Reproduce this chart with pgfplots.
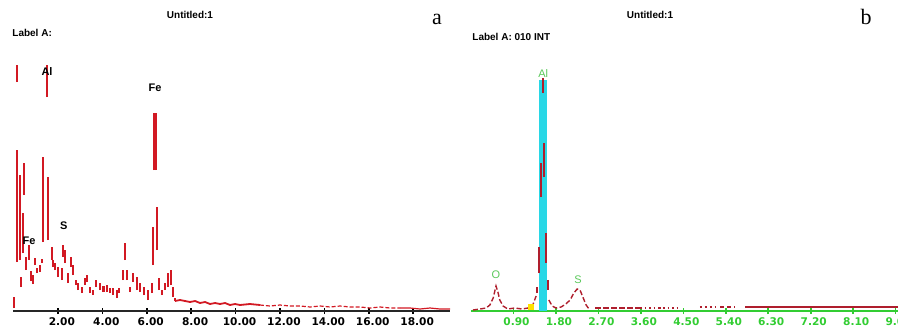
\documentclass[border=0pt]{standalone}
\usepackage{pgfplots}
\usepackage{pgfplotstable}
\pgfplotsset{compat=1.18}
\usepackage{fontspec}
\setmainfont{Liberation Sans}
\newfontfamily\djv{DejaVu Sans}
\newfontfamily\serifx{Liberation Serif}
\definecolor{spred}{RGB}{210,25,35}
\definecolor{bred}{RGB}{175,30,45}
\definecolor{bgreen}{RGB}{50,205,50}
\definecolor{lgreen}{RGB}{90,200,90}
\definecolor{bcyan}{RGB}{40,215,230}
\definecolor{byellow}{RGB}{255,225,0}

% panel a: vertical strokes of the spectrum (x, low, high)
\pgfplotstableread{
x lo hi
0.02 3 14
0.16 229 246
0.14 49 161
0.29 51 136
0.34 24 34
0.43 58 98
0.47 116 148
0.56 41 54
0.70 51 66
0.79 30 40
0.88 27 36
0.97 46 53
1.06 38 43
1.19 39 46
1.28 48 52
1.33 69 154
1.51 214 246
1.55 71 134
1.73 51 64
1.78 44 51
1.87 41 48
2.00 34 44
2.18 31 43
2.23 54 66
2.32 48 61
2.45 28 38
2.59 44 54
2.68 36 46
2.82 26 31
2.91 21 28
3.09 18 24
3.22 26 33
3.31 29 36
3.45 18 24
3.58 16 21
3.72 24 31
3.90 21 28
4.03 19 25
4.08 19 25
4.21 19 26
4.35 18 23
4.48 16 23
4.66 13 21
4.75 18 23
4.93 31 41
5.02 51 68
5.11 31 41
5.25 19 24
5.38 29 38
5.56 21 34
5.70 19 28
5.88 16 24
6.06 11 21
6.24 18 28
6.28 46 84
6.35 141 198
6.40 141 198
6.46 61 104
6.55 21 33
6.69 16 21
6.82 21 28
6.96 24 38
7.09 26 41
7.18 14 24
7.27 10 13
}\strokesA

% panel b: vertical strokes of the Al peak
\pgfplotstableread{
x lo hi
1.525 218 233
1.54 134 168
1.48 114 148
1.59 48 78
1.44 38 64
1.40 18 24
1.63 21 31
}\strokesB

\begin{document}
\begin{tikzpicture}
\useasboundingbox (0,0) rectangle (449pt,164pt);

% ---------- panel a ----------
\begin{axis}[
  scale only axis, width=218.25pt, height=128pt,
  at={(6.75pt,8.5pt)}, anchor=south west,
  xmin=0, xmax=19.66, ymin=0, ymax=256,
  axis x line*=bottom, axis y line=none,
  xtick={2,4,6,8,10,12,14,16,18},
  xticklabels={2.00,4.00,6.00,8.00,10.00,12.00,14.00,16.00,18.00},
  tick align=center, major tick length=3pt,
  x axis line style={black!85, line width=0.8pt},
  xtick style={black, line width=0.8pt},
  xticklabel style={font=\djv\bfseries\fontsize{5.3}{6}\selectfont, xshift=2pt, yshift=1.8pt, black},
  clip=false,
]
\addplot[draw=none, mark=none, forget plot,
  error bars/.cd, y dir=plus, y explicit, error mark=none,
  error bar style={draw=spred, line width=1pt, solid}]
  table[x=x, y=lo, y error expr=\thisrow{hi}-\thisrow{lo}] {\strokesA};
\addplot[spred, line width=0.9pt, mark=none] coordinates {
(7.27,10) (7.50,11) (7.73,10) (7.95,9) (8.18,10) (8.40,8) (8.63,9) (8.85,7)
(9.08,8) (9.30,7) (9.53,8) (9.75,6) (9.98,7) (10.20,6) (10.65,7) (11.10,6)};
\addplot[spred, line width=0.6pt, mark=none, dash pattern=on 2pt off 1pt] coordinates {
(11.10,6) (11.55,5) (12.00,6) (12.45,5) (12.91,5) (13.36,4) (13.81,5)
(14.26,4) (14.71,5) (15.16,4) (15.61,4) (16.06,3) (16.51,4) (16.96,3) (17.41,3)};
\addplot[spred, line width=0.6pt, mark=none] coordinates {
(17.41,3) (17.86,3) (18.31,2) (18.76,3) (19.21,2) (19.66,2)};
\node[font=\bfseries\fontsize{5.5}{6}\selectfont] at (axis cs:1.51,239) {Al};
\node[font=\bfseries\fontsize{5.5}{6}\selectfont] at (axis cs:6.38,223) {Fe};
\node[font=\bfseries\fontsize{5.5}{6}\selectfont] at (axis cs:0.70,70) {Fe};
\node[font=\bfseries\fontsize{5.5}{6}\selectfont] at (axis cs:2.27,85) {S};
\end{axis}

% ---------- panel b ----------
\begin{axis}[
  scale only axis, width=213.5pt, height=128pt,
  at={(235.5pt,8.5pt)}, anchor=south west,
  xmin=0, xmax=9.05, ymin=0, ymax=256,
  axis x line*=bottom, axis y line=none,
  xtick={0.9,1.8,2.7,3.6,4.5,5.4,6.3,7.2,8.1,9.0},
  xticklabels={0.90,1.80,2.70,3.60,4.50,5.40,6.30,7.20,8.10,9.00},
  tick align=center, major tick length=3pt,
  x axis line style={bgreen, line width=0.9pt},
  xtick style={bgreen, line width=0.8pt},
  xticklabel style={font=\djv\bfseries\fontsize{5.3}{6}\selectfont, xshift=1.5pt, yshift=1.8pt, bgreen},
  clip=false,
]
\addplot[fill=bcyan, draw=none, mark=none] coordinates {(1.44,0) (1.44,231) (1.61,231) (1.61,0)} -- cycle;
\addplot[bred, line width=0.7pt, mark=none, dash pattern=on 2.5pt off 1.2pt] coordinates {
(0.04,1) (0.19,2) (0.32,3) (0.40,6) (0.47,13) (0.53,25) (0.57,19) (0.61,11)
(0.68,5) (0.78,2) (0.93,3) (1.08,2) (1.21,3) (1.31,6) (1.38,15)};
\addplot[bred, line width=0.7pt, mark=none, dash pattern=on 2.5pt off 1.2pt] coordinates {
(1.65,11) (1.72,5) (1.80,3) (1.91,4) (2.01,7) (2.10,11) (2.18,18) (2.25,22)
(2.31,21) (2.37,14) (2.44,6) (2.50,2)};
\addplot[bred, line width=0.9pt, mark=none, dash pattern=on 3pt off 1pt] coordinates {
(2.63,3) (2.90,3) (3.20,3) (3.58,3)};
\addplot[bred, line width=0.6pt, mark=none, dash pattern=on 0.8pt off 1.5pt] coordinates {
(3.58,3) (4.00,3) (4.43,3)};
\addplot[bred, line width=0.6pt, mark=none, dash pattern=on 1pt off 1.5pt] coordinates {
(4.85,4) (5.17,4)};
\addplot[bred, line width=0.7pt, mark=none, dash pattern=on 2pt off 1.5pt] coordinates {
(5.28,4) (5.59,4)};
\addplot[bred, line width=0.9pt, mark=none] coordinates {
(5.81,4) (6.50,4) (7.20,4) (8.00,4) (9.05,4)};
\addplot[draw=none, mark=none, forget plot,
  error bars/.cd, y dir=plus, y explicit, error mark=none,
  error bar style={draw=bred, line width=0.9pt, solid}]
  table[x=x, y=lo, y error expr=\thisrow{hi}-\thisrow{lo}] {\strokesB};
\addplot[only marks, mark=square*, mark size=1.4pt, byellow] coordinates {(1.27,4)};
\node[font=\fontsize{5.5}{6}\selectfont, text=lgreen] at (axis cs:0.53,36) {O};
\node[font=\fontsize{5.5}{6}\selectfont, text=lgreen] at (axis cs:1.53,237) {Al};
\node[font=\fontsize{5.5}{6}\selectfont, text=lgreen] at (axis cs:2.27,31) {S};
\end{axis}

% ---------- titles ----------
\node[font=\bfseries\fontsize{5}{6}\selectfont] at (95pt,156.5pt) {Untitled:1};
\node[font=\bfseries\fontsize{5}{6}\selectfont, anchor=west, inner sep=0pt] at (6pt,147.5pt) {Label A:};
\node[font=\serifx\fontsize{11}{12}\selectfont] at (218.5pt,154.5pt) {a};
\node[font=\bfseries\fontsize{5}{6}\selectfont] at (325pt,156.5pt) {Untitled:1};
\node[font=\bfseries\fontsize{5}{6}\selectfont, anchor=west, inner sep=0pt] at (236pt,145.5pt) {Label A: 010 INT};
\node[font=\serifx\fontsize{11}{12}\selectfont] at (433pt,155.5pt) {b};
\end{tikzpicture}
\end{document}
